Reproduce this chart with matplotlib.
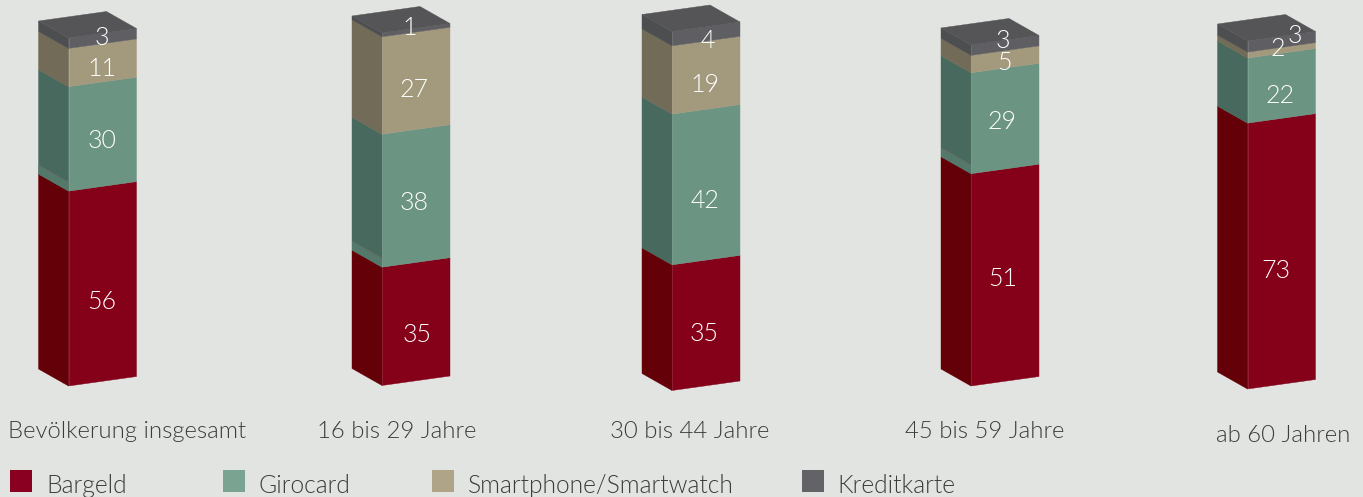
import matplotlib
matplotlib.use("Agg")
import matplotlib.pyplot as plt
from matplotlib.patches import Polygon, Rectangle

# ---- data -------------------------------------------------------------
categories = ["Bevölkerung insgesamt", "16 bis 29 Jahre", "30 bis 44 Jahre",
              "45 bis 59 Jahre", "ab 60 Jahren"]
series_names = ["Bargeld", "Girocard", "Smartphone/Smartwatch", "Kreditkarte"]

# numbers as printed on the bars
bargeld_printed = [56, 35, 35, 51, 73]
girocard_printed = [30, 38, 42, 29, 22]
smartphone_printed = [11, 27, 19, 5, 2]
kreditkarte_printed = [3, 1, 4, 3, 3]

# segment sizes as the bars are actually drawn
bargeld_drawn = [56, 34, 35, 61, 76.4]
girocard_drawn = [30, 38.2, 42, 29, 18.7]
smartphone_drawn = [11, 28, 19, 5, 1.7]
kreditkarte_drawn = [3, 1.1, 4, 3, 3.2]

# ---- layout (pixels) ----------------------------------------------------
W, H = 1363, 497
BG = "#e1e4e1"
FRONT_X = [68.5, 382, 672, 971, 1247.5]
BASE_Y = [386, 385.5, 390.5, 386, 389]
PX_PER_UNIT = [3.48, 3.48, 3.59, 3.48, 3.48]
LEFT = (-30, -17)
RIGHT = (68, -9.5)
BACK = (38, -26.5)
FRONT_COL = ["#850019", "#6b9482", "#a39a7e", "#5f5f63"]
SIDE_COL = ["#640007", "#48695d", "#716b57", "#4d4e50"]
TOP_COL = "#555557"
LEGEND_COL = ["#8a0020", "#7ba391", "#b0a488", "#636367"]
LEGEND_SQ_X = [10, 223, 432, 802]
LEGEND_TXT_X = [46, 258, 468, 837]
CAT_X = [127, 397, 690, 985, 1283]
CAT_Y = [432, 432, 432, 432, 435]
STRIP_BARS = [0, 1, 3]
# offset of each printed number from the middle of its segment (series, bar)
NUDGE_X = [[33.5, 35, 32, 32, 28.5], [33.5, 32, 33, 31, 33],
           [33.5, 32, 33, 33, 30], [33.5, 28, 36, 32, 47]]
NUDGE_Y = [[13.5, 9, 6, -0.5, 15], [2, 2, 12, -1, 5],
           [1, 4, 5, -1.5, -6], [-5.5, -7, 2, -9, -10.5]]

plt.rcParams["font.family"] = ["Lato", "DejaVu Sans"]
WEIGHT = 300

fig = plt.figure(figsize=(W / 100, H / 100), dpi=100, facecolor=BG)
ax = fig.add_axes([0, 0, 1, 1])
ax.set_xlim(0, W)
ax.set_ylim(H, 0)
ax.axis("off")

drawn = [bargeld_drawn, girocard_drawn, smartphone_drawn, kreditkarte_drawn]
printed = [bargeld_printed, girocard_printed, smartphone_printed, kreditkarte_printed]


def off(p, o, k=1.0):
    return (p[0] + o[0] * k, p[1] + o[1] * k)


for b, fx in enumerate(FRONT_X):
    y = BASE_Y[b]
    for s in range(4):
        h = drawn[s][b] * PX_PER_UNIT[b]
        y0, y1 = y, y - h
        fb, ft = (fx, y0), (fx, y1)
        ax.add_patch(Polygon([fb, off(fb, RIGHT), off(ft, RIGHT), ft],
                             fc=FRONT_COL[s], ec=FRONT_COL[s], lw=0.3, zorder=2))
        ax.add_patch(Polygon([fb, off(fb, LEFT), off(ft, LEFT), ft],
                             fc=SIDE_COL[s], ec=SIDE_COL[s], lw=0.3, zorder=2))
        if s == 0 and b in STRIP_BARS:
            # slightly lighter overlap band at the foot of the green side face
            t0 = (fx, y1)
            t1 = (fx, y1 - 9)
            ax.add_patch(Polygon([t0, off(t0, LEFT), off(t1, LEFT), t1],
                                 fc="#54786a", ec="none", zorder=3))
            ax.plot(*zip(t1, off(t1, LEFT)), color="#6e6a6a", lw=0.6, ls=(0, (2, 1)), zorder=4)
        ax.text(fx + NUDGE_X[s][b], (y0 + y1) / 2 + NUDGE_Y[s][b], str(printed[s][b]),
                color="white", fontsize=18, fontweight=WEIGHT, ha="center", va="center", zorder=6)
        y = y1
    ft = (fx, y)
    ax.add_patch(Polygon([ft, off(ft, RIGHT), off(ft, BACK), off(ft, LEFT)],
                         fc=TOP_COL, ec=TOP_COL, lw=0.3, zorder=5))
    ax.text(CAT_X[b], CAT_Y[b], categories[b], color="#3c3c3c", fontsize=17.2,
            fontweight=WEIGHT, ha="center", va="center")
    ax.plot([fx, fx], [BASE_Y[b], y], color="#ffffff", alpha=0.12, lw=0.7, zorder=4)

for s, name in enumerate(series_names):
    ax.add_patch(Rectangle((LEGEND_SQ_X[s], 470), 22, 22, fc=LEGEND_COL[s], ec="none"))
    ax.text(LEGEND_TXT_X[s], 486, name, color="#3c3c3c", fontsize=17.7,
            fontweight=WEIGHT, ha="left", va="center")

fig.savefig("out.png", dpi=100, facecolor=BG)
